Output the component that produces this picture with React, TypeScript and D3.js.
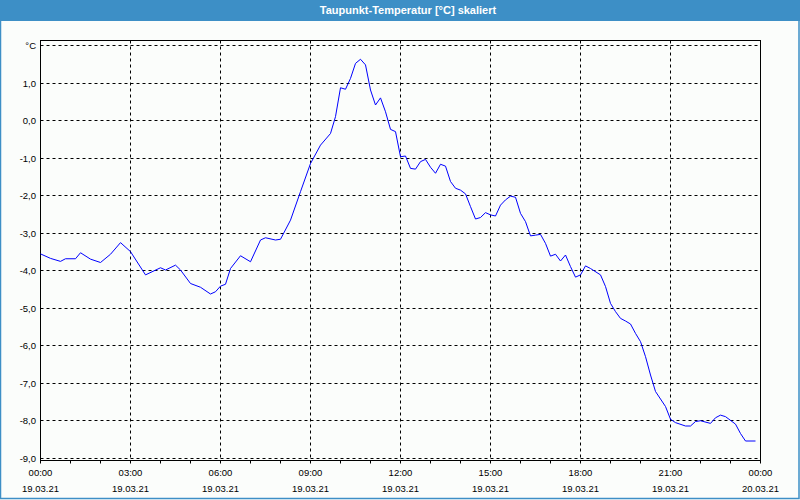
import * as d3 from "d3";

// minutes since 19.03.21 00:00
const minutes = [
  0, 20, 40, 50, 70, 80, 100, 120, 140, 160, 180, 210, 240, 250, 270, 280, 300, 320, 340, 350,
  360, 370, 380, 400, 420, 440, 450, 470, 480, 500, 520, 540, 560, 580, 590, 600, 610, 620, 630, 640,
  650, 660, 670, 680, 690, 700, 710, 720, 730, 740, 750, 760, 770, 780, 790, 800, 810, 820, 830, 840,
  850, 860, 870, 880, 890, 900, 910, 920, 930, 940, 950, 960, 970, 980, 990, 1000, 1010, 1020, 1030, 1040,
  1050, 1060, 1070, 1080, 1090, 1100, 1120, 1130, 1140, 1150, 1160, 1170, 1180, 1190, 1200, 1210, 1220, 1230, 1250, 1260,
  1270, 1290, 1300, 1310, 1320, 1340, 1350, 1360, 1370, 1390, 1400, 1410, 1430,
];
const dewPoint = [
  -3.57, -3.69, -3.77, -3.7, -3.7, -3.54, -3.71, -3.8, -3.58, -3.27, -3.51, -4.13, -3.94, -4.0, -3.87, -4.0, -4.36, -4.46, -4.64, -4.58,
  -4.43, -4.38, -3.96, -3.62, -3.78, -3.2, -3.14, -3.2, -3.18, -2.67, -1.91, -1.16, -0.67, -0.36, 0.09, 0.86, 0.82, 1.11, 1.51, 1.62,
  1.47, 0.8, 0.4, 0.59, 0.22, -0.25, -0.31, -0.98, -0.96, -1.29, -1.31, -1.11, -1.05, -1.26, -1.42, -1.18, -1.23, -1.64, -1.82, -1.87,
  -1.97, -2.31, -2.64, -2.6, -2.47, -2.53, -2.56, -2.27, -2.13, -2.03, -2.06, -2.49, -2.71, -3.09, -3.07, -3.05, -3.29, -3.63, -3.58, -3.76,
  -3.6, -3.91, -4.19, -4.13, -3.89, -3.96, -4.13, -4.44, -4.89, -5.11, -5.29, -5.36, -5.44, -5.69, -5.91, -6.31, -6.8, -7.24, -7.64, -7.98,
  -8.07, -8.16, -8.16, -8.04, -8.02, -8.09, -7.94, -7.87, -7.91, -8.11, -8.36, -8.56, -8.56,
];

const yTicks = [2, 1, 0, -1, -2, -3, -4, -5, -6, -7, -8, -9];
const timeLabels = ["00:00", "03:00", "06:00", "09:00", "12:00", "15:00", "18:00", "21:00", "00:00"];
const dateLabels = ["19.03.21", "19.03.21", "19.03.21", "19.03.21", "19.03.21", "19.03.21", "19.03.21", "19.03.21", "20.03.21"];

const title = "Taupunkt-Temperatur [°C] skaliert";
const blue = "#3d8fc6";
const font = "'Liberation Sans', Arial, sans-serif";

export default function App() {
  const W = 800;
  const H = 500;
  const left = 40.5, right = 760.5, top = 40.5, bottom = 460.5;

  const x = d3.scaleLinear().domain([0, 1440]).range([left, right]);
  const y = d3.scaleLinear().domain([-9, 2]).range([457.5, 45]);

  const pts = minutes.map((m, i) => [m, dewPoint[i]] as [number, number]);
  const line = d3.line<[number, number]>().x(d => x(d[0])).y(d => y(d[1]));

  const hourTicks = d3.range(0, 25).map(h => h * 60);
  const majorTicks = d3.range(0, 9).map(i => i * 180);

  return (
    <div style={{ position: "fixed", left: 0, top: 0 }}>
      <svg width={W} height={H} style={{ display: "block" }}>
        <rect x={0} y={0} width={W} height={H} fill="#fbfdfb" />
        {/* window frame + title bar */}
        <rect x={0.5} y={0.5} width={W - 1.5} height={H - 2} fill="none" stroke={blue} strokeWidth={1.5} />
        <rect x={0} y={0} width={W} height={21} fill={blue} />
        <text x={408} y={13.5} fill="#fff" fontFamily={font} fontWeight="bold" fontSize={11} textAnchor="middle">
          {title}
        </text>

        {/* horizontal grid */}
        {yTicks.map(t => (
          <line key={"h" + t} x1={left} x2={right} y1={Math.round(y(t)) + 0.5} y2={Math.round(y(t)) + 0.5}
            stroke="#000" strokeDasharray="3,3" />
        ))}
        {/* vertical grid */}
        {majorTicks.slice(1, -1).map(t => (
          <line key={"v" + t} x1={x(t)} x2={x(t)} y1={top} y2={bottom} stroke="#000" strokeDasharray="3,3" />
        ))}

        {/* frame */}
        <rect x={left} y={top} width={right - left} height={bottom - top} fill="none" stroke="#000" />

        {/* x ticks */}
        {hourTicks.map(t => (
          <line key={"t" + t} x1={x(t)} x2={x(t)} y1={bottom} y2={bottom + 3} stroke="#000" />
        ))}

        {/* y labels */}
        {yTicks.map(t => (
          <text key={"yl" + t} x={36} y={Math.round(y(t)) + 0.5} dy="0.35em" textAnchor="end"
            fontFamily={font} fontSize={9.5} fill="#000">
            {t === 2 ? "°C" : d3.format(".1f")(t).replace(".", ",").replace("−", "-")}
          </text>
        ))}

        {/* x labels */}
        {majorTicks.map((t, i) => (
          <g key={"xl" + t}>
            <text x={x(t)} y={473} dy="0.35em" textAnchor="middle" fontFamily={font} fontSize={9.5} fill="#000">
              {timeLabels[i]}
            </text>
            <text x={x(t)} y={488.5} dy="0.35em" textAnchor="middle" fontFamily={font} fontSize={9.5} fill="#000">
              {dateLabels[i]}
            </text>
          </g>
        ))}

        {/* data */}
        <path d={line(pts) ?? ""} fill="none" stroke="#0000ff" strokeWidth={1} />
      </svg>
    </div>
  );
}
